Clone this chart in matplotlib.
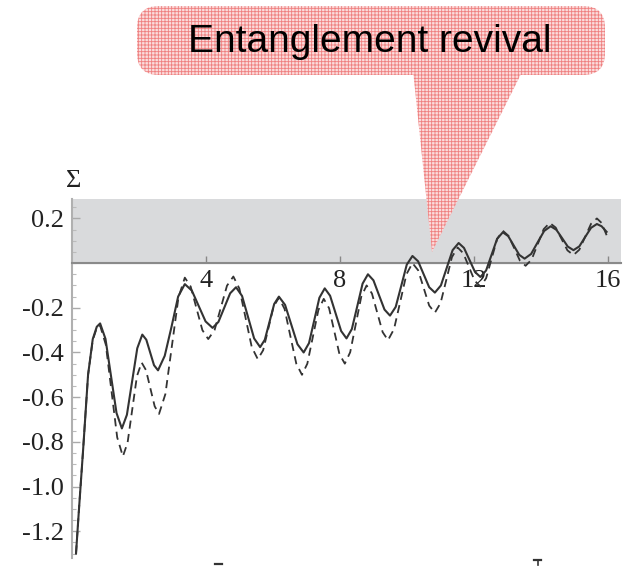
import matplotlib
matplotlib.use("Agg")
import matplotlib.pyplot as plt
from matplotlib.patches import FancyBboxPatch, Polygon
from matplotlib.ticker import MultipleLocator, FixedLocator, FuncFormatter

# solid curve
x_solid = [0.12, 0.2, 0.33, 0.48, 0.62, 0.74, 0.84,
           1.0, 1.165, 1.33, 1.49, 1.64, 1.795, 1.95, 2.1,
           2.22, 2.335, 2.45, 2.57, 2.77, 2.97, 3.17, 3.37,
           3.58, 3.785, 3.99, 4.2, 4.375, 4.55, 4.725, 4.9,
           5.08, 5.26, 5.44, 5.62, 5.76, 5.9, 6.04, 6.18,
           6.365, 6.55, 6.735, 6.92, 7.08, 7.235, 7.39, 7.55,
           7.71, 7.875, 8.04, 8.2, 8.36, 8.52, 8.68, 8.84,
           9.005, 9.17, 9.335, 9.5, 9.67, 9.835, 10.0, 10.17,
           10.34, 10.505, 10.67, 10.84, 11.02, 11.195, 11.37, 11.55,
           11.71, 11.875, 12.04, 12.2, 12.37, 12.535, 12.7, 12.87,
           13.03, 13.195, 13.36, 13.52, 13.715, 13.91, 14.105, 14.3,
           14.47, 14.64, 14.81, 14.98, 15.155, 15.33, 15.505, 15.68,
           15.82, 15.97]
y_solid = [-1.30, -1.12, -0.84, -0.50, -0.34, -0.285, -0.27,
           -0.339, -0.505, -0.671, -0.74, -0.679, -0.53, -0.381, -0.32,
           -0.343, -0.40, -0.457, -0.48, -0.415, -0.287, -0.150, -0.094,
           -0.123, -0.192, -0.261, -0.29, -0.263, -0.199, -0.135, -0.108,
           -0.147, -0.242, -0.337, -0.376, -0.343, -0.263, -0.183, -0.15,
           -0.187, -0.275, -0.363, -0.40, -0.358, -0.257, -0.155, -0.113,
           -0.146, -0.225, -0.304, -0.337, -0.295, -0.194, -0.092, -0.05,
           -0.077, -0.143, -0.208, -0.235, -0.196, -0.102, -0.007, 0.032,
           0.008, -0.05, -0.108, -0.132, -0.10, -0.021, 0.058, 0.09,
           0.068, 0.014, -0.04, -0.062, -0.033, 0.038, 0.109, 0.138,
           0.121, 0.079, 0.037, 0.02, 0.041, 0.093, 0.144, 0.165,
           0.149, 0.112, 0.074, 0.058, 0.075, 0.117, 0.158, 0.175,
           0.165, 0.14]

# dashed curve
x_dash = [0.12, 0.2, 0.33, 0.48, 0.62, 0.74, 0.84,
          1.01, 1.18, 1.35, 1.52, 1.66, 1.80, 1.94, 2.08,
          2.21, 2.34, 2.47, 2.6, 2.79, 2.985, 3.18, 3.37,
          3.545, 3.72, 3.895, 4.07, 4.26, 4.445, 4.63, 4.82,
          5.0, 5.185, 5.37, 5.55, 5.71, 5.865, 6.02, 6.18,
          6.35, 6.525, 6.70, 6.87, 7.03, 7.195, 7.36, 7.52,
          7.68, 7.835, 7.99, 8.15, 8.31, 8.475, 8.64, 8.8,
          8.96, 9.12, 9.28, 9.44, 9.62, 9.805, 9.99, 10.17,
          10.34, 10.505, 10.67, 10.84, 11.01, 11.18, 11.35, 11.52,
          11.69, 11.86, 12.03, 12.2, 12.37, 12.535, 12.7, 12.87,
          13.04, 13.21, 13.38, 13.55, 13.73, 13.91, 14.09, 14.27,
          14.45, 14.625, 14.80, 14.98, 15.155, 15.33, 15.505, 15.68,
          15.82, 15.97]
y_dash = [-1.30, -1.12, -0.84, -0.50, -0.345, -0.29, -0.28,
          -0.365, -0.573, -0.78, -0.865, -0.804, -0.655, -0.506, -0.445,
          -0.479, -0.56, -0.641, -0.675, -0.586, -0.37, -0.154, -0.065,
          -0.105, -0.203, -0.30, -0.34, -0.299, -0.20, -0.101, -0.06,
          -0.114, -0.245, -0.376, -0.43, -0.39, -0.293, -0.195, -0.155,
          -0.205, -0.328, -0.45, -0.50, -0.45, -0.33, -0.21, -0.16,
          -0.202, -0.305, -0.408, -0.45, -0.399, -0.275, -0.151, -0.1,
          -0.136, -0.223, -0.309, -0.345, -0.295, -0.173, -0.05, 0.0,
          -0.032, -0.111, -0.19, -0.222, -0.179, -0.076, 0.027, 0.07,
          0.044, -0.018, -0.079, -0.105, -0.068, 0.02, 0.108, 0.145,
          0.122, 0.067, 0.011, -0.012, 0.016, 0.084, 0.152, 0.18,
          0.159, 0.108, 0.057, 0.036, 0.06, 0.118, 0.176, 0.2,
          0.18, 0.125]

x_ticks = [4, 8, 12, 16]
y_ticks = [0.2, -0.2, -0.4, -0.6, -0.8, -1.0, -1.2]
callout_text = "Entanglement revival"

serif = "Liberation Serif"

fig = plt.figure(figsize=(6.3, 5.72), dpi=100)
ax = fig.add_axes([72/630, 14/572, 549/630, 359/572])
ax.set_xlim(0, 16.4)
ax.set_ylim(-1.32, 0.287)

ax.axhspan(0, 0.287, color="#d9dadc", zorder=0)

ax.plot(x_solid, y_solid, color="#333333", lw=1.5, zorder=3)
ax.plot(x_dash, y_dash, color="#333333", lw=1.3, dashes=(4.5, 3), zorder=3)

for s in ["top", "right"]:
    ax.spines[s].set_visible(False)
ax.spines["bottom"].set_position(("data", 0))
ax.spines["bottom"].set_color("#8a8a8a")
ax.spines["bottom"].set_linewidth(1.5)
ax.spines["left"].set_color("#b0b0b0")
ax.spines["left"].set_linewidth(1.5)

ax.xaxis.set_major_locator(FixedLocator(x_ticks))
ax.yaxis.set_major_locator(FixedLocator(y_ticks))
ax.yaxis.set_minor_locator(MultipleLocator(0.05))
ax.yaxis.set_major_formatter(FuncFormatter(lambda v, p: "%.1f" % v))
ax.tick_params(axis="x", direction="in", length=5, width=1, color="#888888",
               pad=5, labelcolor="#222222")
ax.tick_params(axis="y", which="major", direction="in", length=6, width=1,
               color="#aaaaaa", pad=6, labelcolor="#222222")
ax.tick_params(axis="y", which="minor", direction="in", length=3, width=0.8,
               color="#bbbbbb")
for lab in ax.get_xticklabels() + ax.get_yticklabels():
    lab.set_fontfamily(serif)
    lab.set_fontsize(19)

fig.text(66/630, 1 - 181/572, "\u03a3", fontsize=19, family=serif,
         ha="left", va="center", color="#222222")

# speech bubble overlay in pixel coords
ov = fig.add_axes([0, 0, 1, 1])
ov.set_xlim(0, 630)
ov.set_ylim(572, 0)
ov.axis("off")
ov.patch.set_alpha(0)

# bits of cut-off letters at the bottom edge
ov.plot([215, 222], [564, 564], color="#333333", lw=1.6)
ov.plot([534, 541], [560, 560], color="#333333", lw=1.6)
ov.plot([537.5, 537.5], [560, 565], color="#333333", lw=1.2)

plt.rcParams["hatch.linewidth"] = 0.6
bub_face = "#fbdcdc"
bub_hatch = "#ef8080"
tail = Polygon([(413, 70), (523, 70), (432, 252)], closed=True,
               facecolor=bub_face, edgecolor=bub_hatch, lw=0, hatch="+++++",
               zorder=5)
ov.add_patch(tail)
body = FancyBboxPatch((137, 6), 468, 69, boxstyle="round,pad=0,rounding_size=22",
                      facecolor=bub_face, edgecolor=bub_hatch, lw=0,
                      hatch="+++++", zorder=5)
ov.add_patch(body)
ov.text(370, 42, callout_text, fontsize=28, family="Liberation Sans",
        ha="center", va="center", color="black", zorder=6)

fig.savefig("out.png", dpi=100)
